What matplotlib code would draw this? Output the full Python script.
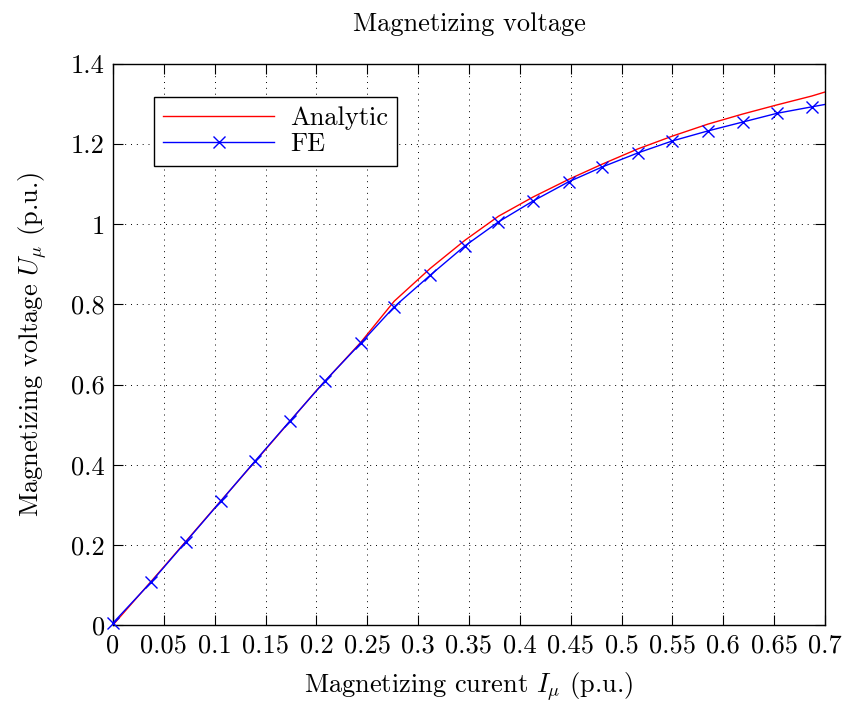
import matplotlib
matplotlib.use('Agg')
import matplotlib.pyplot as plt
from matplotlib.ticker import FuncFormatter

plt.rcParams['mathtext.fontset'] = 'cm'
plt.rcParams['font.family'] = 'cmr10'
plt.rcParams['axes.formatter.use_mathtext'] = True

# FE results (markers)
fe_current = [0.0, 0.0375, 0.0715, 0.106, 0.140, 0.174, 0.2085, 0.2435, 0.2765,
              0.312, 0.346, 0.379, 0.413, 0.448, 0.481, 0.516, 0.550, 0.585,
              0.619, 0.653, 0.687, 0.700]
fe_voltage = [0.005, 0.107, 0.207, 0.309, 0.410, 0.509, 0.609, 0.703, 0.794,
              0.873, 0.946, 1.006, 1.058, 1.106, 1.143, 1.178, 1.208, 1.233,
              1.255, 1.277, 1.293, 1.299]

# analytic curve
an_current = [0.0, 0.05, 0.10, 0.15, 0.20, 0.2435, 0.2765, 0.312, 0.346, 0.379,
              0.413, 0.448, 0.481, 0.516, 0.550, 0.585, 0.619, 0.653, 0.687, 0.700]
an_voltage = [0.0, 0.145, 0.292, 0.438, 0.585, 0.705, 0.808, 0.890, 0.960, 1.020,
              1.068, 1.112, 1.150, 1.188, 1.220, 1.250, 1.275, 1.298, 1.320, 1.330]

X_TICKS = [i * 0.05 for i in range(15)]
Y_TICKS = [i * 0.2 for i in range(8)]
FS = 19


def fmt(v, pos):
    return ('%.2f' % v).rstrip('0').rstrip('.')


fig = plt.figure(figsize=(8.45, 7.03), dpi=100)
ax = fig.add_axes([0.1337, 0.111, 0.8426, 0.798])

ax.plot(an_current, an_voltage, color='#ff0000', linewidth=1.0, label='Analytic')
ax.plot(fe_current[:-1], fe_voltage[:-1], color='#0000ff', linewidth=1.0, marker='x',
        markersize=9, markeredgewidth=1.0, label='FE', clip_on=False, zorder=3)
ax.plot(fe_current[-2:], fe_voltage[-2:], color='#0000ff', linewidth=1.0)

ax.set_xlim(0, 0.7)
ax.set_ylim(0, 1.4)
ax.set_xticks(X_TICKS)
ax.set_yticks(Y_TICKS)
ax.xaxis.set_major_formatter(FuncFormatter(fmt))
ax.yaxis.set_major_formatter(FuncFormatter(fmt))
ax.tick_params(direction='in', length=7, width=0.8, top=True, right=True,
               labelsize=FS, pad=6)
for sp in ax.spines.values():
    sp.set_linewidth(1.0)

ax.grid(True, color='black', linestyle=(0, (1, 5)), linewidth=0.7)

ax.set_title('Magnetizing voltage', fontsize=FS, pad=24)
ax.set_xlabel(r'Magnetizing curent $I_\mu$ (p.u.)', fontsize=FS, labelpad=9)
ax.set_ylabel(r'Magnetizing voltage $U_\mu$ (p.u.)', fontsize=FS, labelpad=16)

leg = ax.legend(loc='upper left', bbox_to_anchor=(0.0576, 0.941), fontsize=FS,
                handlelength=4.2, fancybox=False, framealpha=1, edgecolor='black',
                borderpad=0.35, labelspacing=0.1, handletextpad=0.6,
                borderaxespad=0)
leg.get_frame().set_linewidth(1.0)

fig.savefig('out.png', dpi=100)
